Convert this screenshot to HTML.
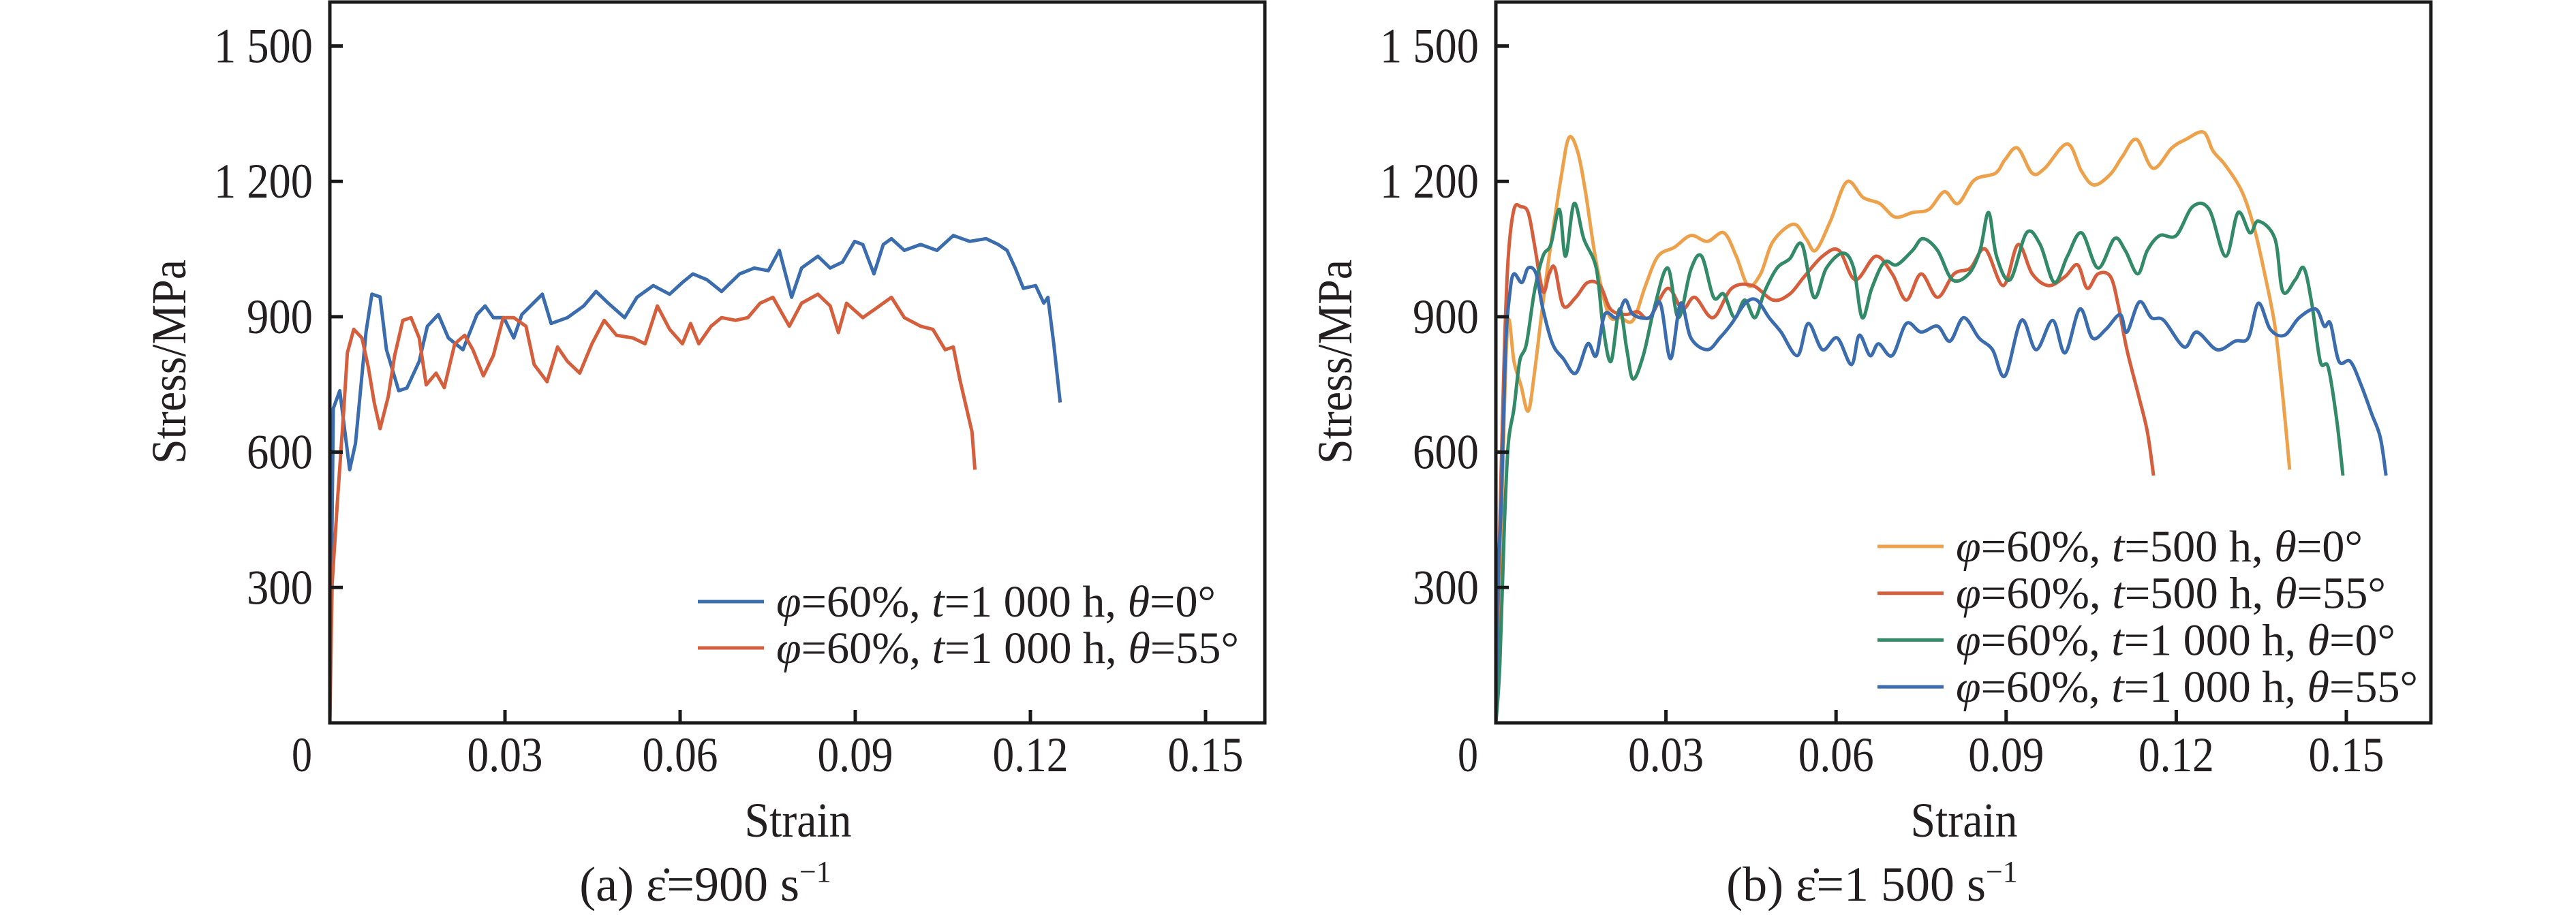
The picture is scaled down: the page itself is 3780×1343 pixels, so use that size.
<!DOCTYPE html>
<html><head><meta charset="utf-8"><style>
html,body{margin:0;padding:0;background:#fff;}
svg{display:block;}
text{font-family:"Liberation Serif",serif;fill:#231f20;}
</style></head><body>
<svg id="fig" width="3780" height="1343" viewBox="0 0 3780 1343" xmlns="http://www.w3.org/2000/svg">
<g id="pa"></g>
<g id="pb"></g>
</svg>
<script>
const xTicks=[0,0.03,0.06,0.09,0.12,0.15];
const xTickLabels=["0","0.03","0.06","0.09","0.12","0.15"];
const yTicks=[300,600,900,1200,1500];
const yTickLabels=["300","600","900","1 200","1 500"];

const aBlueX=[0,0.0006,0.0017,0.0034,0.0044,0.0062,0.0072,0.0086,0.0097,0.0118,0.0132,0.0153,0.0167,0.0186,0.0203,0.0228,0.0252,0.0266,0.028,0.0298,0.0315,0.0329,0.0364,0.0379,0.0407,0.0435,0.0456,0.0477,0.0505,0.0526,0.0554,0.0582,0.0604,0.0622,0.0646,0.0671,0.0702,0.0727,0.0751,0.077,0.0791,0.0808,0.0836,0.0857,0.0878,0.0899,0.0913,0.0932,0.0948,0.0962,0.0984,0.1012,0.104,0.1068,0.1096,0.1124,0.1145,0.116,0.1174,0.1188,0.1209,0.1223,0.123,0.124,0.1251];
const aBlueY=[0,697,736,561,620,866,950,944,827,736,742,801,879,905,853,827,905,924,898,898,853,905,950,885,898,924,956,930,898,943,969,950,976,995,982,956,995,1008,1002,1047,943,1008,1034,1008,1021,1067,1060,995,1060,1073,1047,1060,1047,1080,1067,1073,1060,1047,1008,963,969,930,943,840,710];
const aRedX=[0,0.0004,0.0013,0.0024,0.003,0.0041,0.0055,0.0066,0.0076,0.0086,0.01,0.0111,0.0125,0.0139,0.0153,0.0165,0.0182,0.0196,0.0214,0.0231,0.0245,0.0263,0.028,0.0297,0.0315,0.0336,0.035,0.0372,0.039,0.0407,0.0428,0.0449,0.047,0.0491,0.0519,0.054,0.0561,0.0582,0.0604,0.0618,0.0632,0.0653,0.0671,0.0695,0.0716,0.0737,0.0759,0.0787,0.0808,0.0836,0.0857,0.0871,0.0885,0.0913,0.0934,0.0962,0.0984,0.1012,0.1033,0.1054,0.1068,0.1079,0.1093,0.11,0.1105];
const aRedY=[0,308,490,697,820,872,853,788,710,652,723,814,892,898,853,749,775,743,840,859,827,769,814,898,898,879,794,756,833,801,775,840,892,859,853,840,924,872,840,885,840,879,898,892,898,930,943,879,930,950,924,865,930,898,917,943,898,879,872,827,833,762,684,645,561];

const bOrangeX=[0,0.0007,0.0015,0.0022,0.0032,0.0044,0.0057,0.0068,0.0083,0.0097,0.0116,0.0129,0.0144,0.0158,0.0177,0.0199,0.022,0.0242,0.0264,0.0286,0.0315,0.0344,0.0373,0.0402,0.0424,0.0445,0.0467,0.0489,0.0525,0.0547,0.0564,0.059,0.0619,0.0648,0.0677,0.0704,0.0735,0.0764,0.0791,0.0815,0.0844,0.0881,0.0898,0.092,0.0946,0.0968,0.1008,0.1033,0.1055,0.1084,0.1105,0.113,0.1159,0.1192,0.1217,0.1248,0.1265,0.1287,0.1316,0.1337,0.1356,0.1374,0.1388,0.14];
const bOrangeY=[0,308,697,892,801,749,691,775,930,1060,1216,1297,1267,1177,1021,905,898,892,969,1034,1054,1080,1067,1086,1034,969,995,1067,1105,1073,1047,1112,1199,1164,1151,1121,1131,1138,1177,1151,1203,1218,1248,1274,1218,1229,1283,1222,1192,1216,1255,1293,1229,1274,1293,1309,1267,1235,1177,1099,995,879,723,561];
const bRedX=[0,0.0007,0.0015,0.0022,0.0032,0.0044,0.0057,0.0068,0.0083,0.0094,0.0104,0.0119,0.0141,0.0162,0.0184,0.0202,0.0228,0.025,0.0271,0.0303,0.0329,0.0351,0.0383,0.0416,0.0453,0.0489,0.0518,0.0544,0.0576,0.0605,0.0634,0.067,0.0699,0.0724,0.075,0.0779,0.0808,0.0837,0.0863,0.0895,0.0921,0.0946,0.0975,0.1004,0.1026,0.1043,0.1062,0.1084,0.1098,0.1113,0.1134,0.1149,0.116];
const bRedY=[0,438,827,1034,1138,1144,1131,1060,956,995,1008,924,943,976,969,917,905,911,898,963,917,943,898,963,969,937,950,989,1034,1047,982,1034,995,937,995,943,995,1008,1050,969,1060,995,969,989,1015,963,995,989,924,827,723,645,548];
const bGreenX=[0,0.0007,0.0015,0.0022,0.0032,0.0042,0.0054,0.0068,0.0083,0.0097,0.0112,0.0123,0.0138,0.0155,0.0177,0.0189,0.0203,0.0218,0.0231,0.0242,0.026,0.0279,0.0303,0.0322,0.0344,0.0363,0.0384,0.0402,0.0421,0.0439,0.0457,0.0474,0.0496,0.0518,0.054,0.0561,0.0583,0.0612,0.0631,0.0646,0.0663,0.0685,0.0707,0.0735,0.0753,0.0779,0.0805,0.0834,0.0854,0.0869,0.0883,0.0907,0.0936,0.096,0.0985,0.1008,0.1033,0.1062,0.1091,0.111,0.1132,0.1149,0.1171,0.12,0.1229,0.1258,0.1287,0.1309,0.133,0.1345,0.1374,0.1388,0.141,0.1425,0.1439,0.1454,0.1468,0.1483,0.1494];
const bGreenY=[0,127,438,619,697,801,840,956,1034,1060,1138,1034,1151,1073,1008,879,801,917,827,762,814,917,1008,898,1005,1034,943,950,898,937,898,956,1008,1028,1060,943,1008,1041,1008,898,963,1021,1015,1047,1073,1047,982,995,1047,1131,1034,982,1086,1060,976,1034,1086,1008,1073,1047,995,1047,1080,1080,1144,1138,1034,1131,1086,1112,1073,956,982,1008,930,801,788,671,548];
const bBlueX=[0,0.0004,0.001,0.0017,0.0025,0.0032,0.0046,0.0057,0.0071,0.0083,0.01,0.0119,0.0141,0.0162,0.0177,0.0192,0.0213,0.0228,0.0242,0.0271,0.029,0.0308,0.0326,0.0344,0.0373,0.0395,0.0416,0.044,0.046,0.0482,0.0503,0.0532,0.0551,0.0576,0.0602,0.0627,0.0641,0.066,0.0675,0.0699,0.0724,0.075,0.0779,0.0801,0.0825,0.0852,0.0876,0.0898,0.0927,0.0953,0.0982,0.1004,0.103,0.1052,0.1076,0.1101,0.1113,0.1135,0.1156,0.1178,0.1214,0.1236,0.1272,0.1304,0.1327,0.1345,0.1366,0.1391,0.1417,0.1446,0.1461,0.1472,0.1487,0.1507,0.1526,0.1545,0.156,0.157];
const bBlueY=[0,308,503,827,956,995,976,1008,995,917,840,807,775,840,814,905,898,937,905,898,930,807,930,853,827,853,885,930,937,898,866,814,885,827,853,794,859,814,840,814,885,866,879,846,898,853,827,769,892,827,892,820,917,853,872,905,866,933,898,892,833,866,827,846,853,930,872,859,898,917,879,885,801,801,749,684,632,548];

const C={blue:"#3a6cae",red:"#d55e3c",orange:"#eda14a",green:"#338a68"};
const NS="http://www.w3.org/2000/svg";
function mk(parent,tag,attrs,txt){const e=document.createElementNS(NS,tag);for(const k in attrs)e.setAttribute(k,attrs[k]);if(txt!==undefined)e.textContent=txt;parent.appendChild(e);return e;}
function smooth(pts){let d="M"+pts[0][0].toFixed(1)+","+pts[0][1].toFixed(1);for(let i=0;i<pts.length-1;i++){const p0=pts[Math.max(0,i-1)],p1=pts[i],p2=pts[i+1],p3=pts[Math.min(pts.length-1,i+2)];const c1x=p1[0]+(p2[0]-p0[0])/6,c1y=p1[1]+(p2[1]-p0[1])/6,c2x=p2[0]-(p3[0]-p1[0])/6,c2y=p2[1]-(p3[1]-p1[1])/6;d+="C"+c1x.toFixed(1)+","+c1y.toFixed(1)+" "+c2x.toFixed(1)+","+c2y.toFixed(1)+" "+p2[0].toFixed(1)+","+p2[1].toFixed(1);}return d;}
function poly(pts){return "M"+pts.map(p=>p[0].toFixed(1)+","+p[1].toFixed(1)).join("L");}

function panel(g,cfg){
  const x0=cfg.x0,dx=cfg.dx,y0=1061,dy=198.7/300;
  const sx=v=>x0+v/0.03*dx, sy=v=>y0-v*dy;
  const right=x0+1372;
  cfg.series.forEach(s=>{
    const pts=s.x.map((v,i)=>[sx(v),sy(s.y[i])]);
    const p=mk(g,"path",{d:cfg.jagged?poly(pts):smooth(pts),fill:"none",stroke:s.c,"stroke-width":5,"stroke-linejoin":"round"});
    
    
  });
  const fr=mk(g,"rect",{x:x0,y:3,width:right-x0,height:y0-3,fill:"none",stroke:"#1a1a1a","stroke-width":5});
  
  
  xTicks.forEach((v,i)=>{
    if(i>0){const t=mk(g,"line",{x1:sx(v),x2:sx(v),y1:y0,y2:y0-19,stroke:"#1a1a1a","stroke-width":5});
    
    }
    const lx=i==0?x0-41:sx(v);
    const lb=mk(g,"text",{x:lx,y:1132,"font-size":72,"text-anchor":"middle",textLength:i==0?30:111,lengthAdjust:"spacingAndGlyphs"},xTickLabels[i]);
    
    
  });
  yTicks.forEach((v,i)=>{
    const t=mk(g,"line",{x1:x0,x2:x0+19,y1:sy(v),y2:sy(v),stroke:"#1a1a1a","stroke-width":5});
    
    
    const lb=mk(g,"text",{x:x0-25,y:sy(v)+24,"font-size":72,"text-anchor":"end",textLength:yTickLabels[i].length>3?145:97,lengthAdjust:"spacingAndGlyphs"},yTickLabels[i]);
    
    
  });
  const yt=mk(g,"text",{x:0,y:0,"font-size":72,"text-anchor":"middle",transform:`translate(${x0-212},531) rotate(-90)`,textLength:300,lengthAdjust:"spacingAndGlyphs"},"Stress/MPa");
  
  
  const xt=mk(g,"text",{x:x0+687,y:1228,"font-size":72,"text-anchor":"middle",textLength:157,lengthAdjust:"spacingAndGlyphs"},"Strain");
  
  
  const cap=mk(g,"text",{x:cfg.capX,y:1322,"font-size":72,"text-anchor":"middle"});
  
  
  cap.innerHTML=cfg.cap;
  cfg.series.forEach((s,i)=>{
    const ly=cfg.legY+i*cfg.legDy;
    const ln=mk(g,"line",{x1:cfg.legX,x2:cfg.legX+97,y1:ly,y2:ly,stroke:s.c,"stroke-width":5});
    
    
    const tx=mk(g,"text",{x:cfg.legX+115,y:ly+22,"font-size":66,textLength:s.lw,lengthAdjust:"spacingAndGlyphs"});
    
    
    tx.innerHTML=s.label;
  });
}
const L=(t,a)=>`<tspan font-style="italic">φ</tspan>=60%, <tspan font-style="italic">t</tspan>=${t} h, <tspan font-style="italic">θ</tspan>=${a}°`;
panel(document.getElementById("pa"),{x0:484,dx:257,capX:1035,jagged:true,
  cap:'(a) ε̇=900 s<tspan font-size="44" dy="-28">−1</tspan>',
  legX:1024,legY:883,legDy:68,
  series:[{name:"curve-1000h-0deg",x:aBlueX,y:aBlueY,c:C.blue,label:L("1 000","0"),lw:645},
          {name:"curve-1000h-55deg",x:aRedX,y:aRedY,c:C.red,label:L("1 000","55"),lw:679}]});
panel(document.getElementById("pb"),{x0:2195,dx:249.6,capX:2747,
  cap:'(b) ε̇=1 500 s<tspan font-size="44" dy="-28">−1</tspan>',
  legX:2755,legY:802,legDy:68.7,
  series:[{name:"curve-500h-0deg",x:bOrangeX,y:bOrangeY,c:C.orange,label:L("500","0"),lw:597},
          {name:"curve-500h-55deg",x:bRedX,y:bRedY,c:C.red,label:L("500","55"),lw:631},
          {name:"curve-1000h-0deg",x:bGreenX,y:bGreenY,c:C.green,label:L("1 000","0"),lw:645},
          {name:"curve-1000h-55deg",x:bBlueX,y:bBlueY,c:C.blue,label:L("1 000","55"),lw:678}]});
</script>
</body></html>
